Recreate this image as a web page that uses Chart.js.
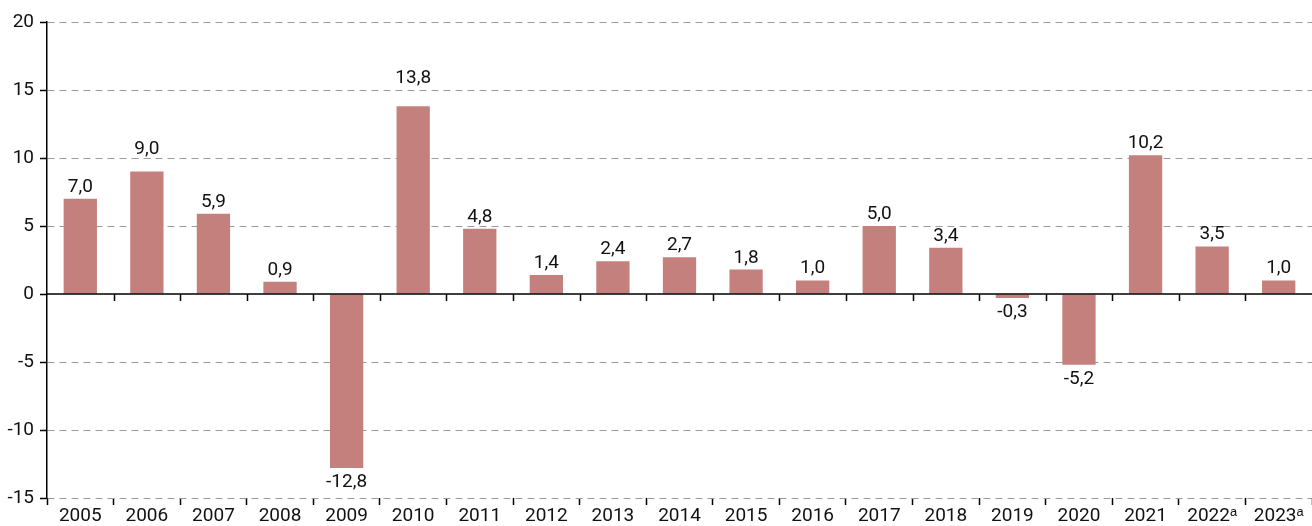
<!DOCTYPE html>
<html>
<head>
<meta charset="utf-8">
<script src="https://cdn.jsdelivr.net/npm/chart.js@4"></script>
<style>
  html, body { margin: 0; padding: 0; background: #fff; }
  #wrap { width: 1312px; height: 526px; }
</style>
</head>
<body>
<div id="wrap"><canvas id="chart"></canvas></div>
<script>
const years = ["2005", "2006", "2007", "2008", "2009", "2010", "2011", "2012", "2013", "2014",
               "2015", "2016", "2017", "2018", "2019", "2020", "2021", "2022ᵃ", "2023ᵃ"];
const growth = [7.0, 9.0, 5.9, 0.9, -12.8, 13.8, 4.8, 1.4, 2.4, 2.7,
                1.8, 1.0, 5.0, 3.4, -0.3, -5.2, 10.2, 3.5, 1.0];
const yTicks = [-15, -10, -5, 0, 5, 10, 15, 20];

const FONT = "'Roboto', sans-serif";
const barColor = "#c4807c";

// value labels above/below each bar, plus the zero line with its ticks
const barLabels = {
    id: "barLabels",
    afterDatasetsDraw(chart, args, opts) {
        const ctx = chart.ctx;
        const meta = chart.getDatasetMeta(0);
        const x = chart.scales.x;
        const y = chart.scales.y;
        const zero = y.getPixelForValue(0);
        const raise = opts.raise || {};

        ctx.save();
        ctx.strokeStyle = "#000";
        ctx.lineWidth = 1.5;
        ctx.beginPath();
        ctx.moveTo(chart.chartArea.left, zero);
        ctx.lineTo(chart.chartArea.right, zero);
        for (let i = 1; i < years.length; i++) {
            const bx = (x.getPixelForValue(i - 1) + x.getPixelForValue(i)) / 2;
            ctx.moveTo(Math.round(bx) + 0.5, zero);
            ctx.lineTo(Math.round(bx) + 0.5, zero + 7);
        }
        ctx.stroke();

        ctx.fillStyle = "#111";
        ctx.font = "19px " + FONT;
        ctx.textAlign = "center";
        meta.data.forEach((bar, i) => {
            const v = growth[i];
            const txt = v.toFixed(1).replace(".", ",");
            if (v >= 0) {
                ctx.textBaseline = "alphabetic";
                ctx.fillText(txt, bar.x, bar.y - 7 - (raise[i] || 0));
            } else {
                ctx.textBaseline = "top";
                ctx.fillText(txt, bar.x, bar.y + 5);
            }
        });
        ctx.restore();
    }
};

new Chart(document.getElementById("chart"), {
    type: "bar",
    data: {
        labels: years,
        datasets: [{
            data: growth,
            backgroundColor: barColor,
            borderWidth: 0,
            categoryPercentage: 1.0,
            barPercentage: 0.5
        }]
    },
    options: {
        responsive: true,
        maintainAspectRatio: false,
        animation: false,
        layout: { padding: { top: 22, right: 0, left: 0, bottom: 0 } },
        plugins: {
            legend: { display: false },
            tooltip: { enabled: false },
            barLabels: { raise: { 1: 11, 5: 16 } }
        },
        scales: {
            x: {
                grid: {
                    offset: true,
                    drawOnChartArea: false,
                    drawTicks: true,
                    tickLength: 7,
                    tickWidth: 1.5,
                    tickColor: "#000"
                },
                border: { display: false },
                ticks: {
                    color: "#111",
                    font: { family: FONT, size: 19 },
                    padding: 0,
                    maxRotation: 0,
                    autoSkip: false
                },
                afterFit: scale => { scale.height = 28; }
            },
            y: {
                min: -15,
                max: 20,
                afterBuildTicks: scale => { scale.ticks = yTicks.map(v => ({ value: v })); },
                grid: {
                    color: ctx => ctx.tick && ctx.tick.value === 0 ? "rgba(0,0,0,0)" : "#9a9a9a",
                    lineWidth: 1,
                    drawTicks: true,
                    tickLength: 7,
                    tickColor: "#000",
                    tickWidth: 1.5
                },
                border: { display: true, color: "#000", width: 1.5, dash: [7, 5] },
                ticks: {
                    color: "#111",
                    font: { family: FONT, size: 19 },
                    padding: 6
                },
                afterFit: scale => { scale.width = 47; }
            }
        }
    },
    plugins: [barLabels]
});
</script>
</body>
</html>
